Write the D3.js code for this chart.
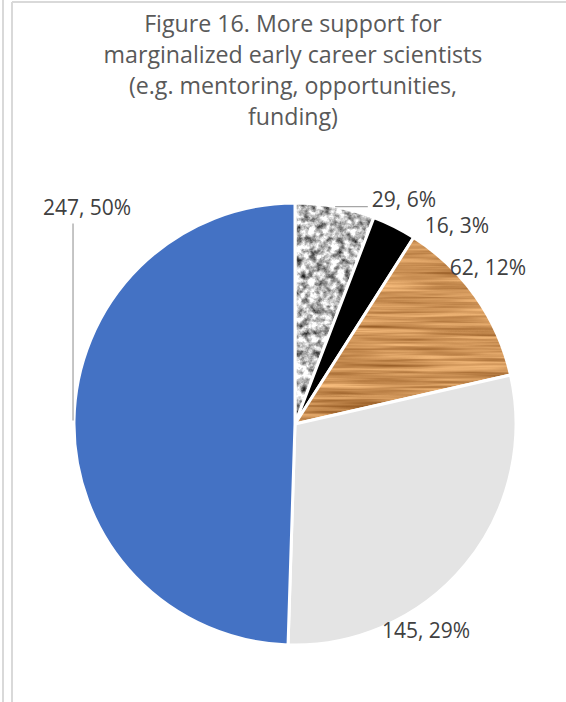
<!DOCTYPE html>
<html lang="en">
<head>
<meta charset="UTF-8">
<script src="https://d3js.org/d3.v7.min.js"></script>
<style>
body {
  margin: 0;
  background: #fff;
  font-family: "Open Sans", Arial, sans-serif;
}
.title {
  font-size: 23.2px;
  fill: #595959;
}
.lbl {
  font-size: 21px;
  fill: #404040;
}
.leader {
  stroke: #a6a6a6;
  stroke-width: 1.3px;
  fill: none;
}
.frame {
  stroke: #d9d9d9;
  stroke-width: 2px;
}
</style>
</head>
<body>
<div id="chart"></div>
<script>
// data
var titleLines = ["Figure 16. More support for", "marginalized early career scientists", "(e.g. mentoring, opportunities,", "funding)"];
var counts = [29, 16, 62, 145, 247];
var percents = ["6%", "3%", "12%", "29%", "50%"];

// slice fills, in the same order as counts
var fills = ["url(#granite)", "#000000", "url(#wood)", "#e4e4e4", "#4472c4"];

// label placement (offset from pie centre, as a fraction of the radius)
var labelPos = [
  {dx: 0.493, dy: -1.014, leader: "h"},
  {dx: 0.733, dy: -0.896},
  {dx: 0.873, dy: -0.706},
  {dx: 0.593, dy: 0.937},
  {dx: -0.941, dy: -0.977, leader: "v"}
];

var width = 566, height = 702;
var cx = 295, cy = 424, radius = 221;

var svg = d3.select("#chart").append("svg")
  .attr("width", width)
  .attr("height", height);

// frame lines like the cropped sheet
svg.append("line").attr("class", "frame").attr("x1", 3).attr("x2", 3).attr("y1", 0).attr("y2", height);
svg.append("line").attr("class", "frame").attr("x1", 12).attr("x2", 12).attr("y1", 2).attr("y2", height);
svg.append("line").attr("class", "frame").attr("x1", 12).attr("x2", width).attr("y1", 2).attr("y2", 2);

var defs = svg.append("defs");

// granite texture
var fg = defs.append("filter").attr("id", "fGranite")
  .attr("filterUnits", "userSpaceOnUse")
  .attr("x", 0).attr("y", 0).attr("width", width).attr("height", height)
  .attr("color-interpolation-filters", "sRGB");
fg.append("feTurbulence").attr("type", "fractalNoise")
  .attr("baseFrequency", "0.14").attr("numOctaves", 4).attr("seed", 7);
fg.append("feColorMatrix").attr("type", "matrix")
  .attr("values", "1.6 0 0 0 -0.06  1.6 0 0 0 -0.06  1.6 0 0 0 -0.06  0 0 0 0 1");

defs.append("pattern").attr("id", "granite")
  .attr("patternUnits", "userSpaceOnUse")
  .attr("width", width).attr("height", height)
  .append("rect").attr("width", width).attr("height", height)
  .attr("filter", "url(#fGranite)");

// wood texture
var fw = defs.append("filter").attr("id", "fWood")
  .attr("filterUnits", "userSpaceOnUse")
  .attr("x", 0).attr("y", 0).attr("width", width).attr("height", height)
  .attr("color-interpolation-filters", "sRGB");
fw.append("feTurbulence").attr("type", "fractalNoise")
  .attr("baseFrequency", "0.008 0.24").attr("numOctaves", 3).attr("seed", 3);
fw.append("feColorMatrix").attr("type", "matrix")
  .attr("values", "0.55 0 0 0 0.53  0.55 0 0 0 0.3  0.5 0 0 0 0.09  0 0 0 0 1");

defs.append("pattern").attr("id", "wood")
  .attr("patternUnits", "userSpaceOnUse")
  .attr("width", width).attr("height", height)
  .append("rect").attr("width", width).attr("height", height)
  .attr("filter", "url(#fWood)");

// title
svg.append("g").selectAll("text")
  .data(titleLines)
  .join("text")
  .attr("class", "title")
  .attr("x", 293)
  .attr("y", function(d, i) { return 32 + i * 31; })
  .attr("text-anchor", "middle")
  .text(function(d) { return d; });

// pie
var pie = d3.pie().sort(null).value(function(d) { return d; });
var arc = d3.arc().innerRadius(0).outerRadius(radius);
var arcs = pie(counts);

var g = svg.append("g").attr("transform", "translate(" + cx + "," + cy + ")");

g.selectAll("path.slice")
  .data(arcs)
  .join("path")
  .attr("class", "slice")
  .attr("d", arc)
  .attr("fill", function(d, i) { return fills[i]; })
  .attr("stroke", "#fff")
  .attr("stroke-width", 3)
  .attr("stroke-linejoin", "round");

// labels
function edgePoint(d) {
  var a = (d.startAngle + d.endAngle) / 2;
  return [radius * Math.sin(a), -radius * Math.cos(a)];
}

var lab = g.selectAll("g.lab")
  .data(arcs)
  .join("g")
  .attr("class", "lab");

lab.append("text")
  .attr("class", "lbl")
  .attr("x", function(d, i) { return labelPos[i].dx * radius; })
  .attr("y", function(d, i) { return labelPos[i].dy * radius; })
  .attr("dy", "0.35em")
  .attr("text-anchor", "middle")
  .text(function(d, i) { return counts[i] + ", " + percents[i]; });

lab.each(function(d, i) {
  var p = labelPos[i];
  if (!p.leader) return;
  var t = d3.select(this).select("text").node().getBBox();
  var e = edgePoint(d);
  var pts;
  if (p.leader === "h") {
    pts = [e, [t.x - 4, e[1]]];
  } else {
    var x = e[0] - 1;
    pts = [[x, e[1]], [x, t.y + t.height + 2]];
  }
  d3.select(this).insert("path", "text")
    .attr("class", "leader")
    .attr("d", d3.line()(pts));
});
</script>
</body>
</html>
